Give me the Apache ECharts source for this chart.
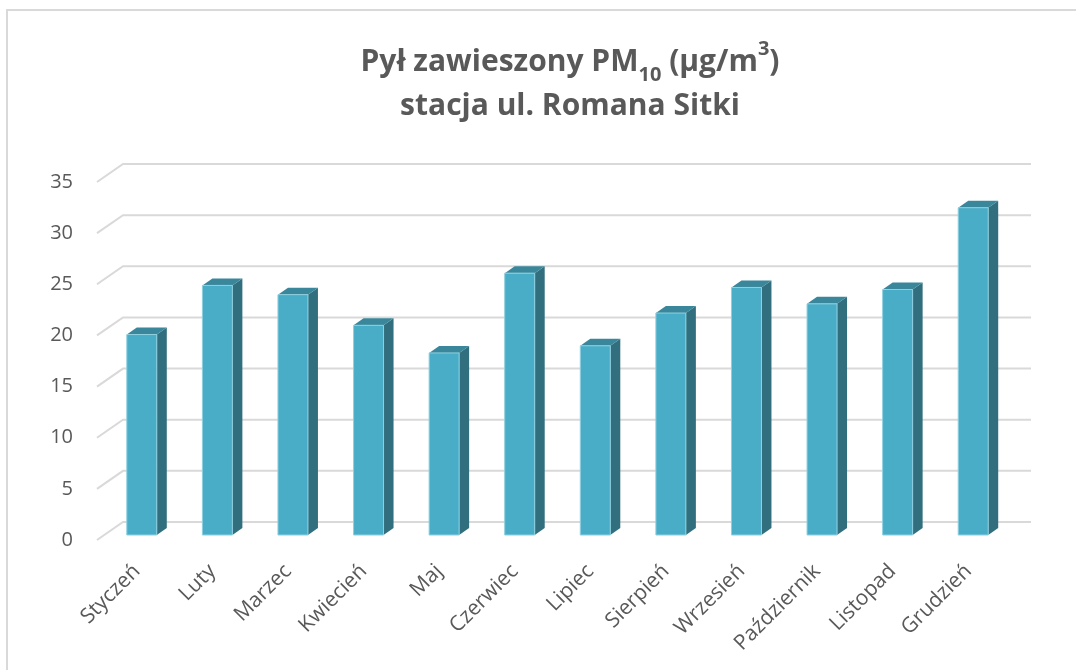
<!DOCTYPE html>
<html>
<head>
<meta charset="utf-8">
<script src="https://cdn.jsdelivr.net/npm/echarts@6/dist/echarts.min.js"></script>
<style>
  html, body { margin: 0; padding: 0; background: #fff; }
  #chart { width: 1076px; height: 670px; }
</style>
</head>
<body>
<div id="chart"></div>
<script>
const months = ['Styczeń', 'Luty', 'Marzec', 'Kwiecień', 'Maj', 'Czerwiec',
  'Lipiec', 'Sierpień', 'Wrzesień', 'Październik', 'Listopad', 'Grudzień']
const pm10 = [19.6, 24.4, 23.5, 20.5, 17.8, 25.6, 18.5, 21.7, 24.2, 22.6, 24.0, 32.0]
const yTicks = [0, 5, 10, 15, 20, 25, 30, 35]

// oblique "3d" offsets
const wallDx = 26
const wallDy = -18
const barDx = 10
const barDy = -7
const barW = 30

const chart = echarts.init(document.getElementById('chart'))
const textColor = '#595959'
const font = '"Open Sans", "DejaVu Sans", sans-serif'

const option = {
  animation: false,
  backgroundColor: '#fff',
  title: {
    left: 565,
    top: 34,
    textAlign: 'center',
    text: '{a|Pył zawieszony PM}{sub|10}{a| (µg/m}{sup|3}{a|)}\n{a|stacja ul. Romana Sitki}',
    textStyle: {
      rich: {
        a: { fontFamily: font, fontSize: 30, fontWeight: 'bold', color: textColor, lineHeight: 42 },
        sub: { fontFamily: font, fontSize: 20, fontWeight: 'bold', color: textColor, verticalAlign: 'bottom', lineHeight: 32 },
        sup: { fontFamily: font, fontSize: 20, fontWeight: 'bold', color: textColor, verticalAlign: 'top', lineHeight: 46 }
      }
    }
  },
  graphic: [{
    type: 'rect',
    shape: { x: 7, y: 10, width: 1100, height: 700 },
    style: { fill: null, stroke: '#d9d9d9', lineWidth: 2 },
    silent: true
  }],
  grid: [
    // front plane (value axis labels, walls)
    { left: 97, top: 182, width: 907, height: 358 },
    // plane of the bar fronts
    { left: 104, top: 177, width: 907, height: 358 }
  ],
  xAxis: [
    { type: 'category', gridIndex: 0, data: months, show: false },
    {
      type: 'category', gridIndex: 1, data: months,
      axisLine: { show: false }, axisTick: { show: false },
      axisLabel: {
        rotate: 45, margin: 28, padding: [0, 7, 0, 0],
        fontSize: 21, fontFamily: font, color: textColor, interval: 0
      }
    }
  ],
  yAxis: [
    {
      type: 'value', gridIndex: 0, min: 0, max: 35, interval: 5,
      axisLine: { show: false }, axisTick: { show: false }, splitLine: { show: false },
      axisLabel: { margin: 24, fontSize: 20, fontFamily: font, color: textColor }
    },
    { type: 'value', gridIndex: 1, min: 0, max: 35, interval: 5, show: false }
  ],
  series: [
    {
      // back wall grid lines with the left-wall diagonals
      type: 'custom',
      xAxisIndex: 0,
      yAxisIndex: 0,
      silent: true,
      z: 1,
      data: yTicks.map(v => [0, v]),
      renderItem: (params, api) => {
        const cs = params.coordSys
        const y = api.coord([0, api.value(1)])[1]
        return {
          type: 'polyline',
          shape: {
            points: [
              [cs.x, y],
              [cs.x + wallDx, y + wallDy],
              [cs.x + cs.width + wallDx + 1, y + wallDy]
            ]
          },
          style: { stroke: '#d9d9d9', lineWidth: 2, fill: null }
        }
      }
    },
    {
      type: 'custom',
      xAxisIndex: 1,
      yAxisIndex: 1,
      z: 2,
      data: pm10.map((v, i) => [i, v]),
      renderItem: (params, api) => {
        const top = api.coord([api.value(0), api.value(1)])
        const base = api.coord([api.value(0), 0])
        const x0 = top[0] - barW / 2
        const x1 = x0 + barW
        const yt = top[1]
        const yb = base[1]
        return {
          type: 'group',
          children: [
            {
              type: 'polygon',
              shape: { points: [[x1, yt], [x1 + barDx, yt + barDy], [x1 + barDx, yb + barDy], [x1, yb]] },
              style: { fill: '#316f7e' }
            },
            {
              type: 'polygon',
              shape: { points: [[x0, yt], [x0 + barDx, yt + barDy], [x1 + barDx, yt + barDy], [x1, yt]] },
              style: { fill: '#3a879b' }
            },
            {
              type: 'rect',
              shape: { x: x0, y: yt, width: barW, height: yb - yt },
              style: { fill: '#4aadc7', stroke: '#8fd0e0', lineWidth: 1 }
            }
          ]
        }
      }
    }
  ]
}

chart.setOption(option)
</script>
</body>
</html>
